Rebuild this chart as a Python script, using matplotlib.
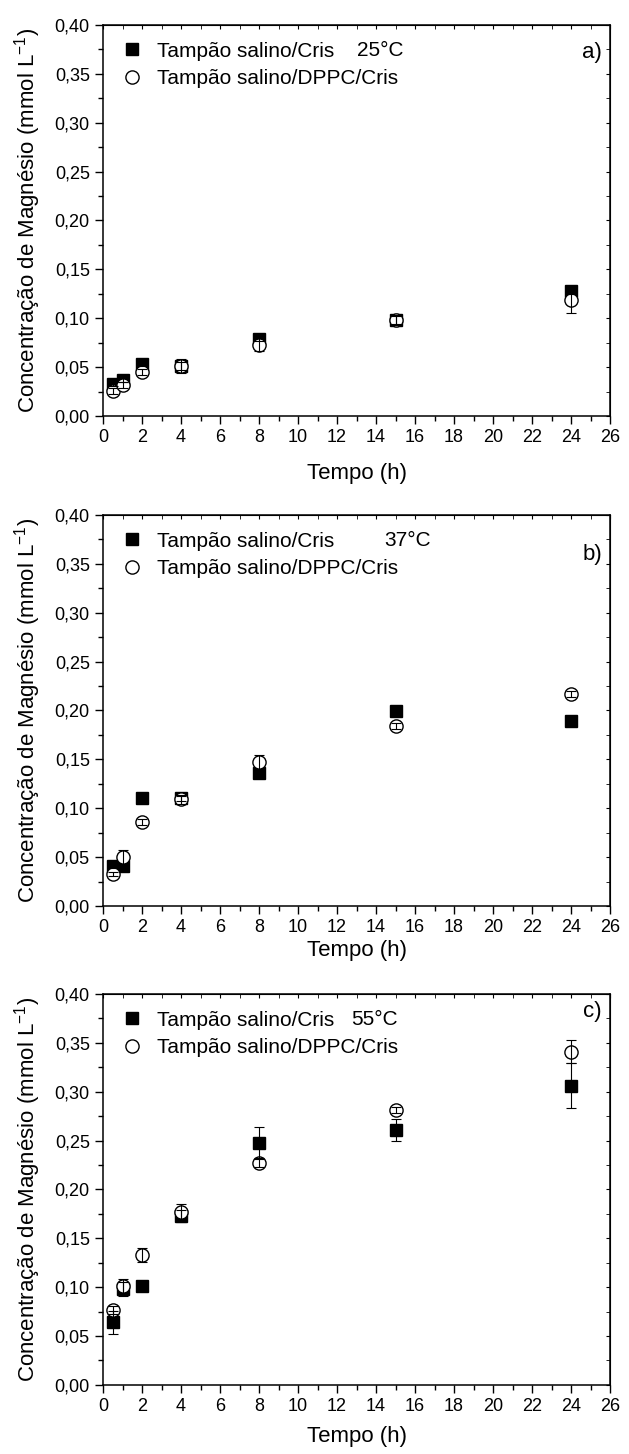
import matplotlib.pyplot as plt
import numpy as np
from matplotlib.lines import Line2D
from matplotlib.ticker import MultipleLocator, FuncFormatter

plt.rcParams['font.family'] = ['Liberation Sans', 'DejaVu Sans']

tempo = [0.5, 1, 2, 4, 8, 15, 24]

# a) 25 C
cris_25 = [0.033, 0.037, 0.053, 0.051, 0.079, 0.098, 0.128]
cris_25_err = [0.002, 0.002, 0.002, 0.004, 0.002, 0.004, 0.003]
dppc_25 = [0.026, 0.032, 0.045, 0.051, 0.073, 0.098, 0.119]
dppc_25_err = [0.003, 0.003, 0.003, 0.007, 0.007, 0.005, 0.014]

# b) 37 C
cris_37 = [0.041, 0.041, 0.110, 0.110, 0.136, 0.199, 0.189]
cris_37_err = [0.002, 0.002, 0.002, 0.003, 0.002, 0.002, 0.002]
dppc_37 = [0.033, 0.050, 0.086, 0.109, 0.147, 0.184, 0.217]
dppc_37_err = [0.002, 0.007, 0.003, 0.005, 0.007, 0.003, 0.003]

# c) 55 C
cris_55 = [0.064, 0.098, 0.101, 0.173, 0.248, 0.261, 0.306]
cris_55_err = [0.012, 0.007, 0.002, 0.006, 0.016, 0.011, 0.023]
dppc_55 = [0.077, 0.101, 0.133, 0.177, 0.227, 0.281, 0.341]
dppc_55_err = [0.004, 0.007, 0.007, 0.008, 0.004, 0.003, 0.012]

paineis = [
    ('a)', '25°C', cris_25, cris_25_err, dppc_25, dppc_25_err),
    ('b)', '37°C', cris_37, cris_37_err, dppc_37, dppc_37_err),
    ('c)', '55°C', cris_55, cris_55_err, dppc_55, dppc_55_err),
]

bottoms = [0.7139, 0.3769, 0.0475]
temp_x = [0.50, 0.555, 0.49]
letra_y = [0.93, 0.90, 0.955]
labelpads = [12, 3, 8]

fig = plt.figure(figsize=(6.29, 14.54), dpi=100)

virg = FuncFormatter(lambda v, p: ('%.2f' % v).replace('.', ','))

for i, (letra, temp, c, ce, d, de) in enumerate(paineis):
    ax = fig.add_axes([0.1638, bottoms[i], 0.806, 0.2689])
    # markers first, error bars drawn over them (as in the original)
    ax.plot(tempo, c, 's', color='black', ms=8.5, zorder=2)
    ax.plot(tempo, d, 'o', mfc='white', mec='black', mew=1.0, ms=9.5, zorder=3)
    ax.errorbar(tempo, c, yerr=ce, fmt='none', ecolor='black',
                elinewidth=0.8, capsize=3.5, capthick=0.8, zorder=4)
    ax.errorbar(tempo, d, yerr=de, fmt='none', ecolor='black',
                elinewidth=0.8, capsize=3.5, capthick=0.8, zorder=4)
    ax.set_xlim(0, 26)
    ax.set_ylim(0, 0.40)
    ax.xaxis.set_major_locator(MultipleLocator(2))
    ax.xaxis.set_minor_locator(MultipleLocator(1))
    ax.yaxis.set_major_locator(MultipleLocator(0.05))
    ax.yaxis.set_minor_locator(MultipleLocator(0.025))
    ax.yaxis.set_major_formatter(virg)
    ax.tick_params(which='major', direction='out', length=6, width=1, labelsize=13)
    ax.tick_params(which='minor', direction='out', length=3.5, width=1)
    for s in ax.spines.values():
        s.set_linewidth(1.1)

    top = ax.secondary_xaxis('top')
    top.xaxis.set_major_locator(MultipleLocator(2))
    top.xaxis.set_minor_locator(MultipleLocator(1))
    top.tick_params(which='both', direction='in', length=3, labeltop=False)
    right = ax.secondary_yaxis('right')
    right.yaxis.set_major_locator(MultipleLocator(0.05))
    right.yaxis.set_minor_locator(MultipleLocator(0.025))
    right.tick_params(which='both', direction='in', length=3, labelright=False)

    ax.set_xlabel('Tempo (h)', fontsize=16, labelpad=labelpads[i])
    ax.set_ylabel('Concentração de Magnésio (mmol L$^{\\mathregular{-1}}$)', fontsize=16)
    ax.yaxis.set_label_coords(-0.118, 0.5)

    h1 = Line2D([], [], marker='s', color='black', ls='none', ms=8.5)
    h2 = Line2D([], [], marker='o', mfc='white', mec='black', ls='none', ms=9.5)
    ax.legend([h1, h2], ['Tampão salino/Cris', 'Tampão salino/DPPC/Cris'],
              loc='upper left', bbox_to_anchor=(0.0, 1.0), frameon=False,
              fontsize=15, handletextpad=0.6, labelspacing=0.4,
              borderaxespad=0.4, handlelength=1.2)
    ax.text(temp_x[i], 0.935, temp, transform=ax.transAxes, fontsize=15,
            ha='left', va='center')
    ax.text(0.984, letra_y[i], letra, transform=ax.transAxes, fontsize=16,
            ha='right', va='center')

fig.savefig('out.png', dpi=100)
